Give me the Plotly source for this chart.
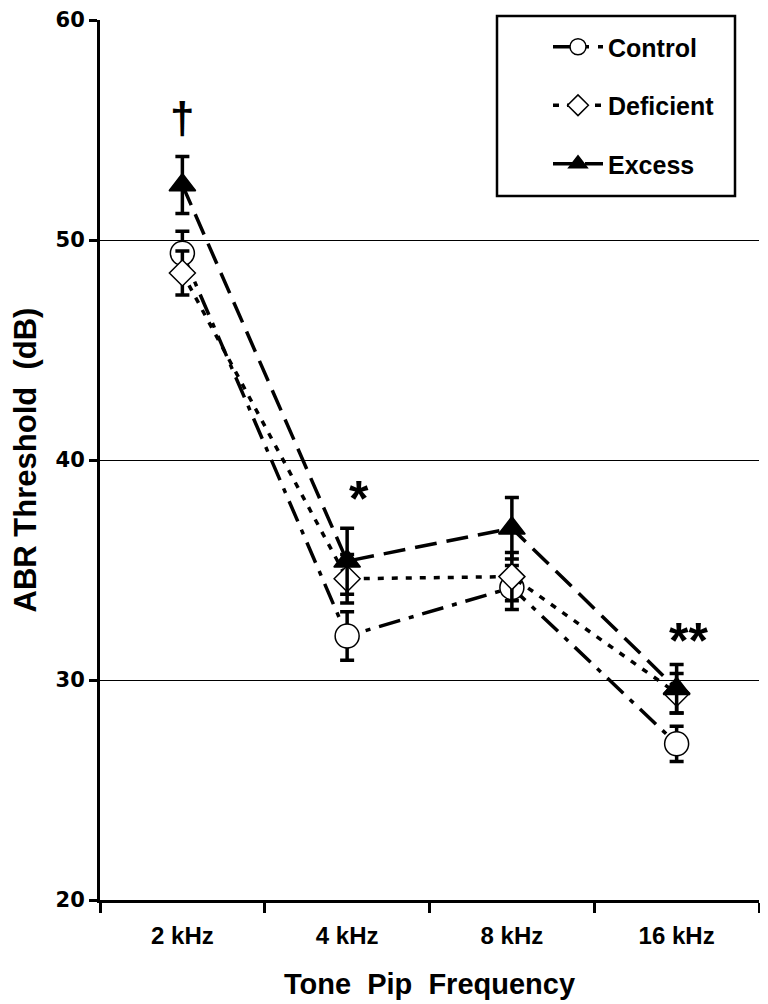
import plotly.graph_objects as go

categories = ["2 kHz", "4 kHz", "8 kHz", "16 kHz"]
x_pos = [0, 1, 2, 3]

control = [49.4, 32.0, 34.2, 27.1]
control_err = [1.0, 1.1, 1.0, 0.8]
deficient = [48.5, 34.6, 34.7, 29.4]
deficient_err = [1.0, 1.1, 1.1, 0.9]
excess = [52.5, 35.4, 36.9, 29.6]
excess_err = [1.3, 1.5, 1.4, 1.1]

marks_x = [0, 1, 3]
marks_y = [55.65, 38.64, 32.2]
marks_text = ["†", "*", "**"]

# page body has an 8px margin, so the figure is made 8px smaller
OFF = 8
W, H = 768 - OFF, 1004 - OFF
L, R, T, B = 100 - OFF, 9, 20 - OFF, 104
pw, ph = W - L - R, H - T - B

fig = go.Figure()

def add(name, y, err, symbol, size, fill, dash, group):
    fig.add_trace(go.Scatter(
        x=x_pos, y=y, name=name, mode="lines+markers",
        legendgroup=group,
        line=dict(color="black", width=3.5, dash=dash),
        marker=dict(symbol=symbol, size=size, color=fill,
                    line=dict(color="black", width=1.5)),
        error_y=dict(type="data", array=err, visible=True,
                     color="black", thickness=3.5, width=7),
    ))

add("Control", control, control_err, "circle", 24, "white", "22px,9px,5px,9px", "a")
add("Deficient", deficient, deficient_err, "diamond", 20, "white", "6px,8px", "b")
add("Excess", excess, excess_err, "triangle-up", 23, "black", "22px,10px", "c")

for xm, ym, tx in zip(marks_x, marks_y, marks_text):
    dag = tx == "†"
    fig.add_annotation(x=xm, y=ym, text=tx, showarrow=False,
                       font=dict(size=44 if dag else 50, color="black",
                                 family="Liberation Sans", weight="bold"),
                       xshift=(0 if dag else 12),
                       yshift=(-2 if dag else -9))

def px_x(p):
    return (p - OFF - L) / pw

def px_y(p):
    return (H + OFF - B - p) / ph

fig.add_shape(type="rect", xref="paper", yref="paper",
              x0=px_x(497), x1=px_x(735), y0=px_y(196), y1=px_y(16),
              line=dict(color="black", width=2.5), fillcolor="white", layer="below")

fig.update_layout(
    width=W, height=H,
    margin=dict(l=L, r=R, t=T, b=B, autoexpand=False),
    paper_bgcolor="white", plot_bgcolor="white",
    font=dict(family="Liberation Sans", color="black"),
    showlegend=True,
    legend=dict(x=px_x(548), y=px_y(24), xanchor="left", yanchor="top",
                bgcolor="rgba(0,0,0,0)", borderwidth=0,
                font=dict(size=25, family="Liberation Sans", weight="bold"),
                tracegroupgap=23, itemwidth=50, itemsizing="trace"),
    xaxis=dict(range=[-0.5, 3.5], tickmode="array", tickvals=x_pos,
               ticktext=categories, ticks="", showgrid=False, zeroline=False,
               automargin=False,
               showline=True, linewidth=3, linecolor="black",
               tickfont=dict(size=24, family="Liberation Sans", weight="bold"),
               ticklabelstandoff=12,
               minor=dict(tickmode="array", tickvals=[-0.5, 0.5, 1.5, 2.5, 3.5],
                          ticks="outside", ticklen=10, tickwidth=2.5,
                          tickcolor="black", showgrid=False),
               title=dict(text="Tone\u00a0 Pip\u00a0 Frequency", standoff=26,
                          font=dict(size=29, family="Liberation Sans", weight="bold"))),
    yaxis=dict(range=[20, 60], tickmode="array", tickvals=[20, 30, 40, 50, 60],
               ticks="outside", ticklen=8, tickwidth=2.5, tickcolor="black",
               automargin=False,
               showgrid=True, gridcolor="black", gridwidth=1, zeroline=False,
               showline=True, linewidth=3, linecolor="black",
               tickfont=dict(size=21, family="DejaVu Sans", weight="bold"),
               title=dict(text="ABR Threshold\u00a0 (dB)", standoff=18,
                          font=dict(size=31, family="Liberation Sans", weight="bold"))),
)

fig.write_html("out.html")
